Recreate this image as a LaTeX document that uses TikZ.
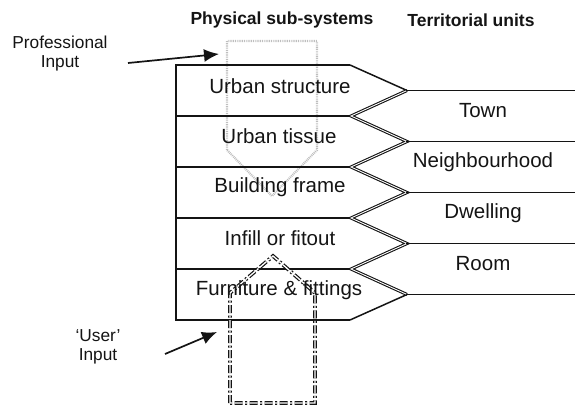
\documentclass[tikz,border=0pt]{standalone}
\usepackage{fontspec}
\setmainfont{Liberation Sans}
\usetikzlibrary{arrows.meta}
\definecolor{ink}{HTML}{141414}
\definecolor{dotgray}{HTML}{BEBEBE}
\tikzset{
  frame/.style={draw=ink, line width=1.5pt},
  zig/.style={draw=ink, line width=1.1pt, double=white, double distance=0.9pt},
  rowtext/.style={font=\fontsize{20.5}{22}\selectfont, text=ink, inner sep=0pt},
  headtext/.style={font=\fontsize{17.5}{19}\selectfont\bfseries, text=ink, inner sep=0pt},
  sidetext/.style={font=\fontsize{17.3}{19}\selectfont, text=ink, align=center, inner sep=0pt},
  profpath/.style={draw=dotgray, line width=2.2pt, dash pattern=on 0.9pt off 0.9pt},
  userpath/.style={draw=ink, line width=1.2pt, double=white, double distance=1.3pt, dash pattern=on 8pt off 2.5pt on 2pt off 2.5pt},
  inarrow/.style={draw=ink, line width=1.7pt, -{Latex[length=15pt,width=13pt]}}
}
\begin{document}
\begin{tikzpicture}[x=1pt,y=-1pt]
\useasboundingbox (0,0) rectangle (575,406);
% professional input (dotted grey)
\draw[profpath] (227,150) -- (227,41) -- (317,41) -- (317,150) -- (272,196) -- cycle;
% left pentagons
\coordinate (l0) at (176,65);
\coordinate (l5) at (176,320);
\draw[frame] (350,65) -- (l0) -- (l5) -- (350,320);
\foreach \y in {116,167,218,269}{
  \draw[frame] (176,\y) -- (350,\y);
}
\draw[frame] (350,65) -- (407,90.5);
\draw[frame] (407,294.5) -- (350,320);
\draw[zig] (407,90.5) -- (351,116) -- (407,141.5) -- (351,167) -- (407,192.5) -- (351,218) -- (407,243.5) -- (351,269) -- (407,294.5);
% right lines
\foreach \y in {90.5,141.5,192.5,243.5,294.5}{
  \draw[frame] (406,\y) -- (575,\y);
}
% user input (dash-dot)
\draw[userpath] (230,403) -- (230,293) -- (273,256) -- (315,293) -- (315,403) -- cycle;
% headers
\node[headtext] (hps) at (282,20) {Physical sub-systems};
\node[headtext] (htu) at (471,20) {Territorial units};
% row texts
\node[rowtext] (us) at (280,86) {Urban structure};
\node[rowtext] (ut) at (279,136) {Urban tissue};
\node[rowtext] (bf) at (280,187) {Building frame};
\node[rowtext] (io) at (280,238) {Infill or fitout};
\node[rowtext] (ff) at (279,290) {Furniture \& fittings};
\node[rowtext] (town) at (483,111) {Town};
\node[rowtext] (nb) at (483,162) {Neighbourhood};
\node[rowtext] (dw) at (483,213) {Dwelling};
\node[rowtext] (room) at (483,264) {Room};
% side labels
\node[sidetext] (prof) at (60,54) {Professional\\Input};
\node[sidetext] (user) at (98,347) {`User'\\Input};
\coordinate (pa) at (128,63);
\coordinate (pb) at (219,54);
\coordinate (ua) at (165,354);
\coordinate (ub) at (217,332);
\draw[inarrow] (pa) -- (pb);
\draw[inarrow] (ua) -- (ub);
\end{tikzpicture}
\end{document}
